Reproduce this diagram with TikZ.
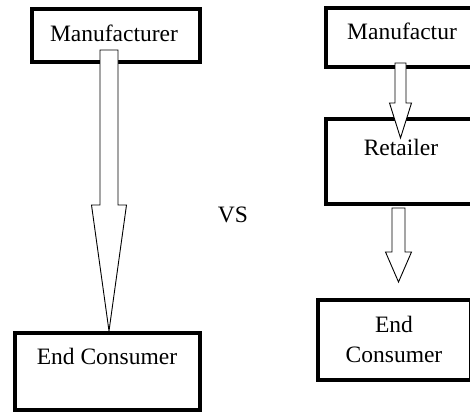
\documentclass[tikz,border=0pt]{standalone}
\usepackage{fontspec}
\setmainfont{Liberation Serif}
\usetikzlibrary{calc}
\tikzset{
  box/.style={draw, line width=3.5pt, rectangle, inner sep=0pt, outer sep=0pt},
  lbl/.style={font=\fontsize{23.5}{30}\selectfont, inner sep=0pt, anchor=base},
  fat/.style={draw, fill=white, line width=0.9pt, line join=miter}
}
\newcommand\fatarrowpath[6]{% start, tip, shaft half, head half, head y offset from tip (up), 
  \path[fat] ($(#1)+(-#3,0)$) -- ($(#1)+(#3,0)$) -- ($(#2)+(#3,-#5)$) -- ($(#2)+(#4,-#5)$) -- (#2) -- ($(#2)+(-#4,-#5)$) -- ($(#2)+(-#3,-#5)$) -- cycle;}
\begin{document}
\begin{tikzpicture}[x=1pt, y=-1pt]
  \clip (0,0) rectangle (470,414);
  % boxes
  \node[box, minimum width=168pt, minimum height=53pt] (lman) at (116,35.5) {};
  \node[box, minimum width=185pt, minimum height=77pt] (lend) at (107.5,371.5) {};
  \node[box, minimum width=164pt, minimum height=59pt] (rman) at (408,37.5) {};
  \node[box, minimum width=164pt, minimum height=85pt] (rret) at (408,161.5) {};
  \node[box, minimum width=153pt, minimum height=80pt] (rend) at (394.5,340) {};
  % texts
  \node[lbl] (lmant) at (114,42) {Manufacturer};
  \node[lbl] (lendt) at (107,364) {End Consumer};
  \node[lbl] (rmant) at (402,40) {Manufactur};
  \node[lbl] (rrett) at (401,155) {Retailer};
  \node[lbl, anchor=center, align=center] (rendt) at (394,339.5) {End\\Consumer};
  \node[lbl] (vs) at (233,222) {VS};
  % arrows
  \coordinate (a1s) at (109,50);    \coordinate (a1t) at (109,331);
  \coordinate (a2s) at (400.5,63);  \coordinate (a2t) at (400.5,138);
  \coordinate (a3s) at (398.5,208); \coordinate (a3t) at (398.5,282);
  \fatarrowpath{a1s}{a1t}{9}{17.5}{126}{}
  \fatarrowpath{a2s}{a2t}{5.5}{11}{35}{}
  \fatarrowpath{a3s}{a3t}{6.5}{13}{30}{}
\end{tikzpicture}
\end{document}
